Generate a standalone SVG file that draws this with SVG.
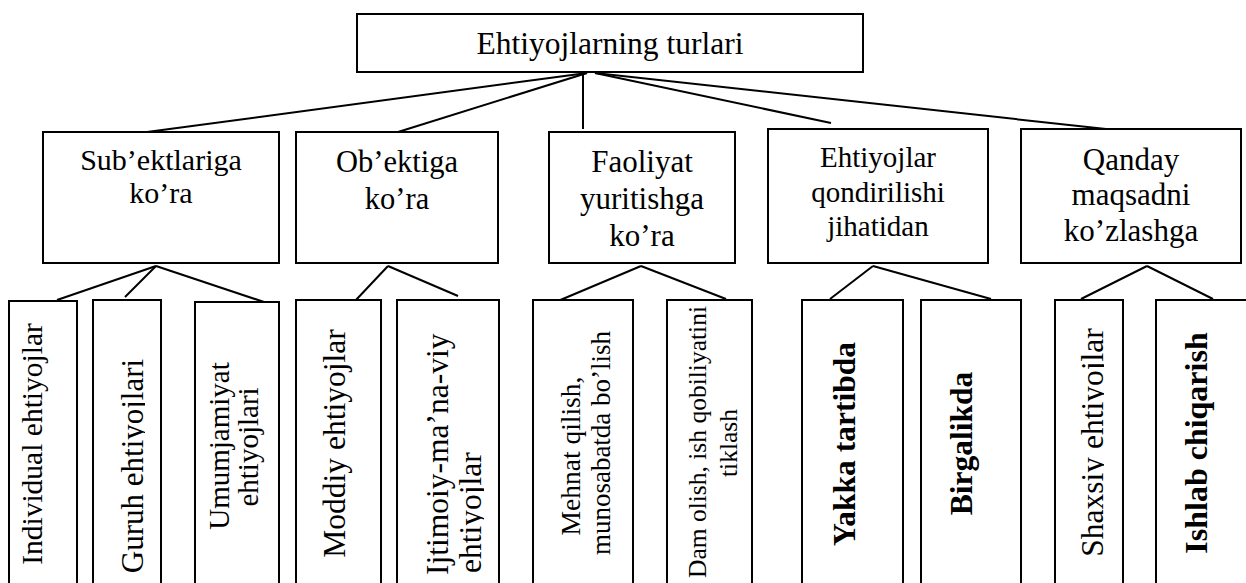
<svg xmlns="http://www.w3.org/2000/svg" width="1246" height="583" viewBox="0 0 1246 583" font-family="'Liberation Serif', 'Times New Roman', Times, serif">
<style>
.box{fill:#fff;stroke:#000;stroke-width:2}
.ln{stroke:#000;stroke-width:2;fill:none}
text{font-family:'Liberation Serif','Times New Roman',Times,serif;fill:#000}
.m{text-anchor:middle}
.b{font-weight:bold}
</style>
<defs>
<clipPath id="cG"><rect x="80" y="280" width="65" height="320"/></clipPath>
<clipPath id="cI"><rect x="400" y="280" width="84" height="320"/></clipPath>
<clipPath id="cS"><rect x="1060" y="280" width="44" height="320"/></clipPath>
</defs>
<rect x="0" y="0" width="1246" height="583" fill="#fff"/>
<g id="connectors">
<line class="ln" x1="587" y1="73" x2="147" y2="132"/>
<line class="ln" x1="587" y1="73" x2="398" y2="132"/>
<line class="ln" x1="583" y1="73" x2="583" y2="129"/>
<line class="ln" x1="595" y1="73" x2="831" y2="123"/>
<line class="ln" x1="595" y1="73" x2="1106" y2="129"/>
<line class="ln" x1="156" y1="266" x2="57" y2="300"/>
<line class="ln" x1="156" y1="266" x2="125" y2="297"/>
<line class="ln" x1="156" y1="266" x2="270" y2="304"/>
<line class="ln" x1="388" y1="266" x2="355" y2="301"/>
<line class="ln" x1="388" y1="266" x2="458" y2="296"/>
<line class="ln" x1="641" y1="266" x2="558" y2="301"/>
<line class="ln" x1="641" y1="266" x2="726" y2="299"/>
<line class="ln" x1="873" y1="266" x2="830" y2="299"/>
<line class="ln" x1="873" y1="266" x2="991" y2="299"/>
<line class="ln" x1="1147" y1="266" x2="1081" y2="299"/>
<line class="ln" x1="1147" y1="266" x2="1213" y2="299"/>
</g>
<g id="root">
<rect class="box" x="357" y="14" width="506" height="58"/>
<text class="m" x="610" y="54" font-size="31.5">Ehtiyojlarning turlari</text>
</g>
<g id="sub">
<rect class="box" x="43" y="132" width="236" height="131"/>
<text class="m" x="161" y="170" font-size="30">Sub’ektlariga</text>
<text class="m" x="161" y="203" font-size="30">ko’ra</text>
</g>
<g id="ob">
<rect class="box" x="296" y="132" width="202" height="131"/>
<text class="m" x="397" y="172" font-size="30.5">Ob’ektiga</text>
<text class="m" x="397" y="209" font-size="30.5">ko’ra</text>
</g>
<g id="faoliyat">
<rect class="box" x="549" y="132" width="186" height="131"/>
<text class="m" x="642" y="172" font-size="31">Faoliyat</text>
<text class="m" x="642" y="209" font-size="31">yuritishga</text>
<text class="m" x="642" y="246" font-size="31">ko’ra</text>
</g>
<g id="qondirilishi">
<rect class="box" x="768" y="129" width="220" height="134"/>
<text class="m" x="878" y="167" font-size="29">Ehtiyojlar</text>
<text class="m" x="878" y="202" font-size="29">qondirilishi</text>
<text class="m" x="878" y="236" font-size="29">jihatidan</text>
</g>
<g id="maqsad">
<rect class="box" x="1021" y="129" width="220" height="134"/>
<text class="m" x="1131" y="170" font-size="31">Qanday</text>
<text class="m" x="1131" y="205" font-size="31">maqsadni</text>
<text class="m" x="1131" y="241" font-size="31">ko’zlashga</text>
</g>
<g id="individual">
<rect class="box" x="9" y="301" width="68" height="300"/>
<text class="m" font-size="29.5" transform="translate(42,444) rotate(-90)">Individual ehtiyojlar</text>
</g>
<g id="guruh">
<rect class="box" x="93" y="300" width="68" height="300"/>
<g clip-path="url(#cG)"><text class="m" font-size="31" transform="translate(143,466) rotate(-90)">Guruh ehtiyojlari</text></g>
</g>
<g id="umumjamiyat">
<rect class="box" x="195" y="302" width="84" height="300"/>
<text class="m" font-size="29" transform="translate(229,446) rotate(-90)">Umumjamiyat</text>
<text class="m" font-size="29" transform="translate(258,447) rotate(-90)">ehtiyojlari</text>
</g>
<g id="moddiy">
<rect class="box" x="296" y="300" width="85" height="300"/>
<text class="m" font-size="31.5" transform="translate(345,443.5) rotate(-90)">Moddiy ehtiyojlar</text>
</g>
<g id="ijtimoiy">
<rect class="box" x="397" y="300" width="102" height="300"/>
<text font-size="31.5" transform="translate(448,575) rotate(-90)">Ijtimoiy-ma’na-viy</text>
<g clip-path="url(#cI)"><text font-size="31.5" transform="translate(481,573) rotate(-90)">ehtiyojlar</text></g>
</g>
<g id="mehnat">
<rect class="box" x="533" y="300" width="100" height="300"/>
<text class="m" font-size="27.5" transform="translate(580,456) rotate(-90)">Mehnat qilish,</text>
<text class="m" font-size="27" transform="translate(610,443) rotate(-90)">munosabatda bo’lish</text>
</g>
<g id="dam">
<rect class="box" x="667" y="300" width="85" height="300"/>
<text class="m" font-size="25.5" transform="translate(706,442) rotate(-90)">Dam olish, ish qobiliyatini</text>
<text class="m" font-size="25.5" transform="translate(737,443) rotate(-90)">tiklash</text>
</g>
<g id="yakka">
<rect class="box" x="802" y="300" width="101" height="300"/>
<text class="m b" font-size="31.5" transform="translate(855,444) rotate(-90)">Yakka tartibda</text>
</g>
<g id="birgalikda">
<rect class="box" x="921" y="300" width="100" height="300"/>
<text class="m b" font-size="31.5" transform="translate(972,443.5) rotate(-90)">Birgalikda</text>
</g>
<g id="shaxsiy">
<rect class="box" x="1055" y="300" width="68" height="300"/>
<g clip-path="url(#cS)"><text class="m" font-size="31.5" transform="translate(1103,442.5) rotate(-90)">Shaxsiy ehtiyojlar</text></g>
</g>
<g id="ishlab">
<rect class="box" x="1156" y="300" width="104" height="300"/>
<text class="m b" font-size="32" transform="translate(1207,443) rotate(-90)">Ishlab chiqarish</text>
</g>
</svg>
